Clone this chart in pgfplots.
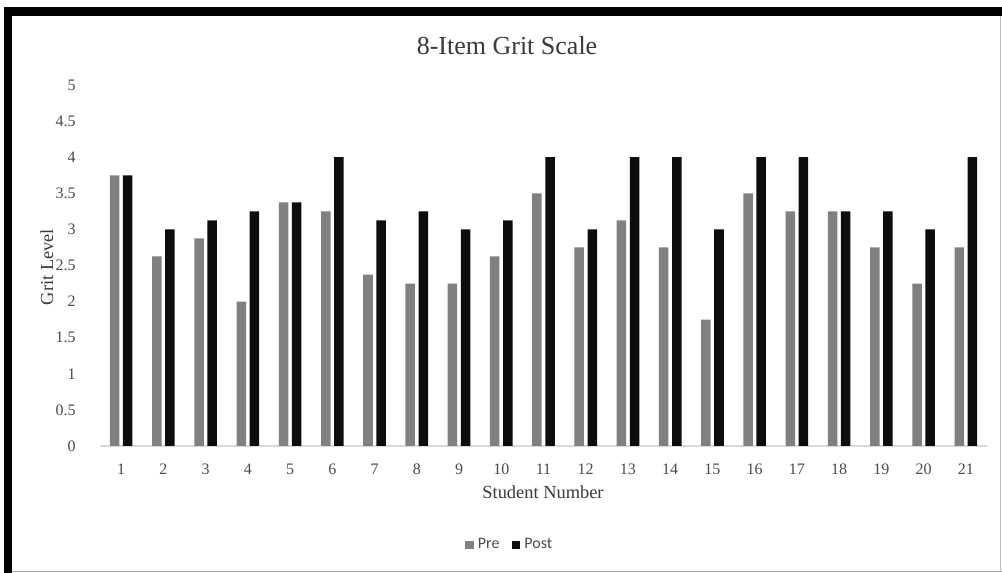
\documentclass[border=0pt]{standalone}
\usepackage{pgfplots}
\usepackage{pgfplotstable}
\pgfplotsset{compat=1.18}
\usepackage{fontspec}
\setmainfont{Liberation Serif}
\newfontfamily\legendfont{Carlito}

\definecolor{preGray}{HTML}{808080}
\definecolor{postBlack}{HTML}{0D0D0D}
\definecolor{labelGray}{HTML}{4A4A4A}
\definecolor{titleGray}{HTML}{3A3A3A}
\definecolor{axisGray}{HTML}{D9D9D9}

% Grit scores before and after, per student
\pgfplotstableread{
student pre   post
1       3.75  3.75
2       2.625 3.0
3       2.875 3.125
4       2.0   3.25
5       3.375 3.375
6       3.25  4.0
7       2.375 3.125
8       2.25  3.25
9       2.25  3.0
10      2.625 3.125
11      3.5   4.0
12      2.75  3.0
13      3.125 4.0
14      2.75  4.0
15      1.75  3.0
16      3.5   4.0
17      3.25  4.0
18      3.25  3.25
19      2.75  3.25
20      2.25  3.0
21      2.75  4.0
}\gritdata

\begin{document}
\begin{tikzpicture}[x=0.5pt,y=0.5pt]
\useasboundingbox (0,0) rectangle (1002,573);
\fill[white] (0,0) rectangle (1002,573);
% frame around the chart
\fill[black] (4,557) rectangle (1002,566);
\fill[black] (4,0) rectangle (12,566);
\draw[gray!70, line width=0.6pt] (12,1.5) -- (1002,1.5);
\draw[gray!50, line width=0.6pt] (1000.5,1.5) -- (1000.5,557);

\begin{axis}[
  at={(50pt,63.5pt)}, anchor=south west,
  scale only axis, width=443.5pt, height=180.5pt,
  xmin=0.5, xmax=21.5, ymin=0, ymax=5,
  ybar, bar width=0.225,
  xtick={1,...,21}, ytick={0,0.5,...,5},
  axis x line*=bottom, axis y line*=left,
  y axis line style={draw=none},
  x axis line style={draw=axisGray, line width=0.8pt},
  major tick length=0pt,
  /pgf/number format/assume math mode=true,
  ticklabel style={font=\fontsize{8}{9.5}\selectfont, text=labelGray},
  yticklabel style={inner sep=0pt, xshift=-12pt},
  xticklabel style={inner sep=0pt, anchor=north, text height=5.5pt, text depth=0pt, yshift=-8.5pt},
  legend style={at={(0.463,-0.274)}, anchor=center, draw=none,
    legend columns=2, font=\legendfont\fontsize{8}{9}\selectfont,
    text=labelGray, /tikz/every even column/.append style={column sep=4pt},
    inner sep=0pt, row sep=0pt},
  legend image code/.code={\fill[#1,draw=none] (0pt,-2.2pt) rectangle (4.4pt,2.2pt);},
  legend cell align=left,
]
\addplot[fill=preGray, draw=none, bar shift=-0.155] table[x=student, y=pre] {\gritdata};
\addplot[fill=postBlack, draw=none, bar shift=0.155] table[x=student, y=post] {\gritdata};
\legend{Pre, Post}
\end{axis}

\node[anchor=base, font=\fontsize{13}{15}\selectfont, text=titleGray] at (507,518) {8-Item Grit Scale};
\node[anchor=base, font=\fontsize{9.2}{11}\selectfont, text=titleGray] at (543,74) {Student Number};
\node[anchor=base, rotate=90, font=\fontsize{9.2}{11}\selectfont, text=titleGray] at (53,306) {Grit Level};
\end{tikzpicture}
\end{document}
